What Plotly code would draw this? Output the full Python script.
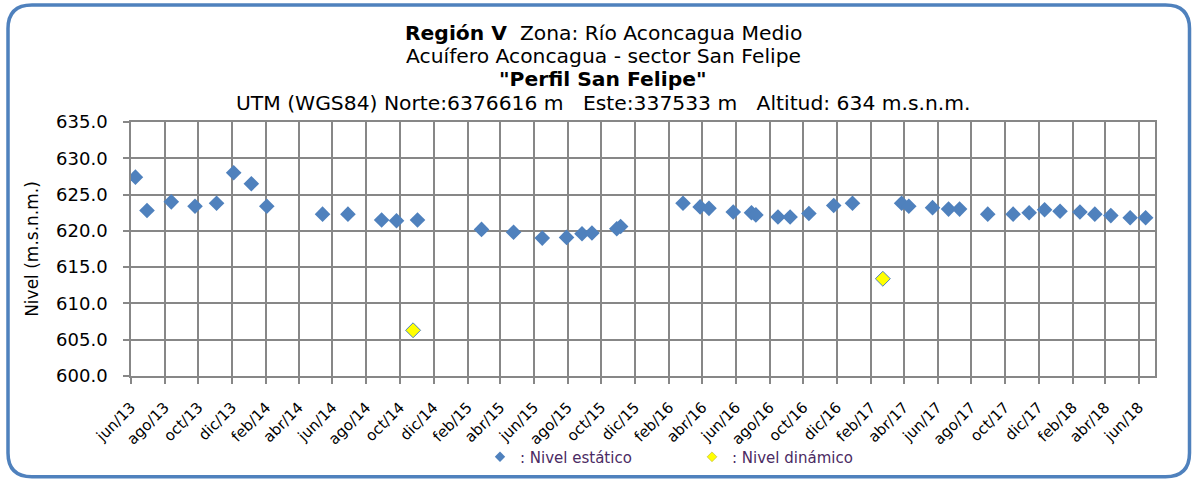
import plotly.graph_objects as go

# Static level measurements (date, m.s.n.m.)
fechas_estatico = [
    "2013-06-09", "2013-06-30", "2013-08-13", "2013-09-25", "2013-11-03",
    "2013-12-04", "2014-01-05", "2014-02-02", "2014-05-14", "2014-06-29",
    "2014-08-29", "2014-09-25", "2014-11-02", "2015-02-26", "2015-04-25",
    "2015-06-16", "2015-07-30", "2015-08-27", "2015-09-14", "2015-10-29",
    "2015-11-05", "2016-02-26", "2016-03-28", "2016-04-13", "2016-05-27",
    "2016-06-29", "2016-07-07", "2016-08-16", "2016-09-07", "2016-10-11",
    "2016-11-25", "2016-12-29", "2017-03-28", "2017-04-10", "2017-05-23",
    "2017-06-21", "2017-07-11", "2017-08-31", "2017-10-16", "2017-11-14",
    "2017-12-12", "2018-01-09", "2018-02-14", "2018-03-13", "2018-04-11",
    "2018-05-16", "2018-06-13",
]
nivel_estatico = [
    627.4, 622.8, 624.0, 623.4, 623.8,
    628.0, 626.5, 623.4, 622.3, 622.3,
    621.5, 621.4, 621.5, 620.2, 619.8,
    619.0, 619.1, 619.6, 619.7, 620.3,
    620.6, 623.8, 623.3, 623.1, 622.6,
    622.5, 622.2, 621.9, 621.9, 622.4,
    623.5, 623.8, 623.8, 623.4, 623.2,
    623.0, 623.0, 622.3, 622.3, 622.5,
    622.9, 622.7, 622.6, 622.3, 622.1,
    621.8, 621.8,
]

# Dynamic level measurements
fechas_dinamico = ["2014-10-25", "2017-02-22"]
nivel_dinamico = [606.3, 613.4]

# Bimonthly date ticks
tick_fechas = [
    "2013-06-01", "2013-08-01", "2013-10-01", "2013-12-01", "2014-02-01",
    "2014-04-01", "2014-06-01", "2014-08-01", "2014-10-01", "2014-12-01",
    "2015-02-01", "2015-04-01", "2015-06-01", "2015-08-01", "2015-10-01",
    "2015-12-01", "2016-02-01", "2016-04-01", "2016-06-01", "2016-08-01",
    "2016-10-01", "2016-12-01", "2017-02-01", "2017-04-01", "2017-06-01",
    "2017-08-01", "2017-10-01", "2017-12-01", "2018-02-01", "2018-04-01",
    "2018-06-01",
]
tick_textos = [
    "jun/13", "ago/13", "oct/13", "dic/13", "feb/14",
    "abr/14", "jun/14", "ago/14", "oct/14", "dic/14",
    "feb/15", "abr/15", "jun/15", "ago/15", "oct/15",
    "dic/15", "feb/16", "abr/16", "jun/16", "ago/16",
    "oct/16", "dic/16", "feb/17", "abr/17", "jun/17",
    "ago/17", "oct/17", "dic/17", "feb/18", "abr/18",
    "jun/18",
]
y_ticks = [600, 605, 610, 615, 620, 625, 630, 635]

titulo = [
    "<b>Región V</b>\u00a0 Zona: Río Aconcagua Medio",
    "Acuífero Aconcagua - sector San Felipe",
    "<b>\"Perfil San Felipe\"</b>",
    "UTM (WGS84) Norte:6376616 m\u00a0\u00a0 Este:337533 m\u00a0\u00a0 Altitud: 634 m.s.n.m.",
]

W_FIG, H_FIG = 1193, 486
L, R, T, B = 131, 1155, 122, 379
FONT = "DejaVu Sans"
AZUL = "#4F81BD"
AMARILLO = "#FFFF00"
GRIS = "#878787"


def px_x(px):
    return (px - L) / (R - L)


def px_y(py):
    return (B - py) / (B - T)


fig = go.Figure()
fig.add_trace(go.Scatter(
    x=fechas_estatico, y=nivel_estatico, mode="markers",
    name=": Nivel estático", showlegend=False,
    marker=dict(symbol="diamond", size=12, color=AZUL,
                line=dict(width=0)),
))
fig.add_trace(go.Scatter(
    x=fechas_dinamico, y=nivel_dinamico, mode="markers",
    name=": Nivel dinámico", showlegend=False,
    marker=dict(symbol="diamond", size=11.5, color=AMARILLO,
                line=dict(width=1, color=AZUL)),
))
# Legend keys with smaller symbols
fig.add_trace(go.Scatter(
    x=[None], y=[None], mode="markers", name=": Nivel estático",
    marker=dict(symbol="diamond", size=8, color=AZUL, line=dict(width=0)),
))
fig.add_trace(go.Scatter(
    x=[None], y=[None], mode="markers", name=": Nivel dinámico",
    marker=dict(symbol="diamond", size=7.5, color=AMARILLO,
                line=dict(width=0.8, color="#C9C34A")),
))

anots = []
for texto, py in zip(titulo, [32, 55, 78, 103]):
    anots.append(dict(
        text=texto, x=px_x(603), y=px_y(py), xref="paper", yref="paper",
        xanchor="center", yanchor="middle", showarrow=False,
        font=dict(family=FONT, size=20.3, color="#000000"),
    ))

# Rounded outer frame of the chart
x0, x1, y0, y1, r = px_x(8), px_x(1189.5), px_y(481), px_y(3.5), 24
rx, ry = r / (R - L), r / (B - T)
frame = (
    f"M {x0 + rx},{y1} L {x1 - rx},{y1} Q {x1},{y1} {x1},{y1 - ry} "
    f"L {x1},{y0 + ry} Q {x1},{y0} {x1 - rx},{y0} "
    f"L {x0 + rx},{y0} Q {x0},{y0} {x0},{y0 + ry} "
    f"L {x0},{y1 - ry} Q {x0},{y1} {x0 + rx},{y1} Z"
)

fig.update_layout(
    width=W_FIG, height=H_FIG,
    margin=dict(l=L, r=W_FIG - R, t=T, b=H_FIG - B),
    paper_bgcolor="white", plot_bgcolor="white",
    font=dict(family=FONT, size=16, color="#000000"),
    annotations=anots,
    shapes=[dict(type="path", path=frame, xref="paper", yref="paper",
                 line=dict(color=AZUL, width=3.5), layer="above")],
    showlegend=True,
    legend=dict(
        orientation="h", x=px_x(480), y=px_y(461), xanchor="left",
        yanchor="middle", entrywidth=167, entrywidthmode="pixels",
        font=dict(family=FONT, size=15, color="#4B2B63"),
        itemsizing="trace", bgcolor="rgba(0,0,0,0)",
        tracegroupgap=0, itemwidth=30,
    ),
    xaxis=dict(
        range=["2013-06-01", "2018-06-30"],
        tickvals=tick_fechas, ticktext=tick_textos, tickangle=-45,
        tickfont=dict(family=FONT, size=15),
        showgrid=True, gridcolor=GRIS, gridwidth=1.6,
        ticks="outside", ticklen=6, tickcolor=GRIS, tickwidth=1.6,
        showline=True, linecolor=GRIS, linewidth=1.6, mirror=True,
        zeroline=False, ticklabelstandoff=9,
    ),
    yaxis=dict(
        range=[600, 635], tickvals=y_ticks,
        ticktext=[f"{v:.1f}" for v in y_ticks],
        tickfont=dict(family=FONT, size=18),
        showgrid=True, gridcolor=GRIS, gridwidth=1.6,
        ticks="outside", ticklen=6, tickcolor=GRIS, tickwidth=1.6,
        showline=True, linecolor=GRIS, linewidth=1.6, mirror=True,
        zeroline=False, ticklabelstandoff=12,
        title=dict(text="Nivel (m.s.n.m.)", standoff=13,
                   font=dict(family=FONT, size=17)),
    ),
)

fig.write_html("out.html")
